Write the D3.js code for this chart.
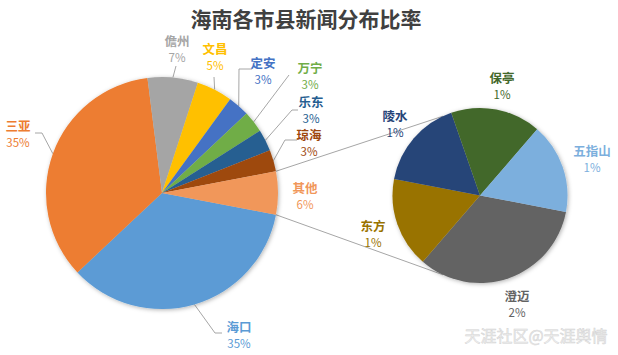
<!DOCTYPE html>
<html><head><meta charset="utf-8">
<script src="https://cdn.jsdelivr.net/npm/d3@7"></script>
<style>
html,body{margin:0;padding:0;background:#fff;}
svg{display:block;font-family:"Noto Sans CJK SC","Noto Sans",sans-serif;}
</style></head>
<body><svg id="c" width="618" height="355"></svg>
<script>
const title = "海南各市县新闻分布比率";
const mainCats = ["海口","三亚","儋州","文昌","定安","万宁","乐东","琼海","其他"];
const mainValues = [35,35,7,5,3,3,3,3,6];
const mainColors = ["#5b9bd5","#ed7d31","#a5a5a5","#ffc000","#4472c4","#70ad47","#255e91","#9e480e","#f1975a"];
const otherCats = ["澄迈","东方","陵水","保亭","五指山"];
const otherValues = [2,1,1,1,1];
const otherColors = ["#636363","#997300","#264478","#43682b","#7cafdd"];
const watermark = "天涯社区@天涯舆情";

// layout (label anchors and leader elbows)
const mainLabelPos = {
  "海口":{x:239,y:326,lead:[[222,333],[215,333]]},
  "三亚":{x:18,y:125,lead:[[35,133],[42,133]]},
  "儋州":{x:177,y:40,lead:[[176,66]]},
  "文昌":{x:215,y:48,lead:[[214,77]]},
  "定安":{x:263,y:62,lead:[[252,69],[239,69]]},
  "万宁":{x:310,y:67,lead:[[289,75]]},
  "乐东":{x:311,y:101.5,lead:[[298,110],[292,110]]},
  "琼海":{x:309,y:134,lead:[[297,140],[285,140]]},
  "其他":{x:305,y:187,lead:null}
};
const otherLabelPos = {
  "澄迈":{x:517,y:295},"东方":{x:373,y:225},"陵水":{x:395,y:115},
  "保亭":{x:502,y:77},"五指山":{x:592,y:150}
};

const svg = d3.select("#c");
const defs = svg.append("defs");
const f = defs.append("filter").attr("id","sh").attr("x","-20%").attr("y","-20%").attr("width","140%").attr("height","140%");
f.append("feDropShadow").attr("dx",1).attr("dy",1).attr("stdDeviation",2.2).attr("flood-color","#000").attr("flood-opacity",0.3);

svg.append("text").attr("x",306).attr("y",18).attr("text-anchor","middle").attr("dominant-baseline","central")
  .attr("font-size",21).attr("font-weight","bold").attr("fill","#404040").text(title);

const M = {cx:162, cy:193, r:116};
const S = {cx:480, cy:195.5, r:87.5};
const deg = Math.PI/180;
const total = d3.sum(mainValues);
const otherFrac = mainValues[mainCats.indexOf("其他")]/total;
const start = Math.PI/2 + otherFrac*Math.PI;

const mainPie = d3.pie().sort(null).startAngle(start).endAngle(start+2*Math.PI)
  .value((d,i)=>mainValues[i]);
const mArcs = mainPie(mainCats);
const otherPie = d3.pie().sort(null).startAngle(start).endAngle(start+2*Math.PI)
  .value((d,i)=>otherValues[i]);
const oArcs = otherPie(otherCats);

const pt = (c, a, r) => [c.cx + r*Math.sin(a), c.cy - r*Math.cos(a)];
function sPt(mathAng){ return [S.cx + S.r*Math.cos(mathAng), S.cy + S.r*Math.sin(mathAng)]; }

// connector lines
const oth = mArcs[mainCats.indexOf("其他")];
const spread = 65*deg;
const lines = [
  [pt(M, oth.startAngle, M.r), sPt(Math.PI + spread)],
  [pt(M, oth.endAngle, M.r), sPt(Math.PI - spread)]
];
svg.selectAll("line.conn").data(lines).join("line").attr("class","conn")
  .attr("x1",d=>d[0][0]).attr("y1",d=>d[0][1]).attr("x2",d=>d[1][0]).attr("y2",d=>d[1][1])
  .attr("stroke","#a6a6a6").attr("stroke-width",1);

// leader lines
const leaderG = svg.append("g");
mArcs.forEach((a,i)=>{
  const lp = mainLabelPos[mainCats[i]];
  if(!lp.lead) return;
  const mid = (a.startAngle+a.endAngle)/2;
  const pts = lp.lead.concat([pt(M, mid, M.r)]);
  leaderG.append("path").attr("d", d3.line()(pts)).attr("fill","none").attr("stroke","#a6a6a6").attr("stroke-width",1);
});

const arcM = d3.arc().innerRadius(0).outerRadius(M.r);
const gm = svg.append("g").attr("transform",`translate(${M.cx},${M.cy})`).attr("filter","url(#sh)");
gm.selectAll("path").data(mArcs).join("path").attr("d",arcM).attr("fill",(d,i)=>mainColors[i]);

const arcS = d3.arc().innerRadius(0).outerRadius(S.r);
const gs = svg.append("g").attr("transform",`translate(${S.cx},${S.cy})`).attr("filter","url(#sh)");
gs.selectAll("path").data(oArcs).join("path").attr("d",arcS).attr("fill",(d,i)=>otherColors[i]);

function label(x,y,name,pct,color){
  svg.append("text").attr("x",x).attr("y",y).attr("text-anchor","middle").attr("dominant-baseline","central")
    .attr("font-size",12.5).attr("font-weight","bold").attr("fill",color).text(name);
  svg.append("text").attr("x",x).attr("y",y+16.5).attr("text-anchor","middle").attr("dominant-baseline","central")
    .attr("font-size",11.5).attr("fill",color).text(pct);
}
mainCats.forEach((c,i)=>{
  const p = mainLabelPos[c];
  label(p.x,p.y,c,Math.round(mainValues[i]/total*100)+"%",mainColors[i]);
});
otherCats.forEach((c,i)=>{
  const p = otherLabelPos[c];
  label(p.x,p.y,c,Math.round(otherValues[i]/total*100)+"%",otherColors[i]);
});

svg.append("text").attr("x",536).attr("y",335).attr("text-anchor","middle").attr("dominant-baseline","central")
  .attr("font-size",16).attr("fill","#eeeeee").attr("stroke","#d4d4d4").attr("stroke-width",0.5).text(watermark);
</script></body></html>
